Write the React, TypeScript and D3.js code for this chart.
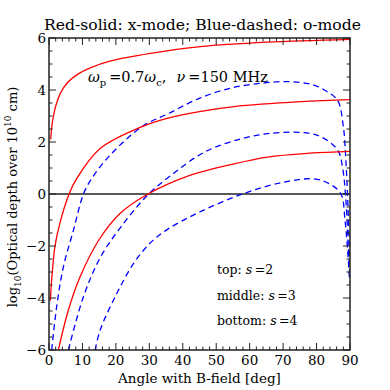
import * as d3 from 'd3';
import React, { useEffect, useRef } from 'react';

// points: [angle in deg, log10 optical depth]
const xmodeS2 = [[0.5, 2.1], [1.0, 2.74], [2.0, 3.38], [3.5, 3.9], [5.5, 4.28], [8.5, 4.6], [12.5, 4.86], [18.5, 5.12], [30.3, 5.41], [45.3, 5.67], [65.3, 5.84], [90, 5.95]];
const xmodeS3 = [[0.4, -4.1], [0.8, -3.3], [1.8, -2.0], [3.3, -1.1], [6.0, 0], [8.3, 0.6], [15.3, 1.75], [27.8, 2.59], [35.3, 2.91], [45, 3.17], [55.3, 3.36], [75.3, 3.55], [90, 3.63]];
const xmodeS4 = [[2.8, -6], [5.8, -4.46], [9.3, -3.18], [15, -1.75], [21.3, -0.74], [29.6, 0], [41.3, 0.68], [55, 1.15], [65.3, 1.42], [78, 1.57], [90, 1.64]];
const omodeS2 = [[0.8, -6], [2.3, -4.33], [4.3, -2.8], [7.3, -1.4], [10.3, 0], [12.8, 0.6], [18.3, 1.5], [27.8, 2.59], [35.8, 3.1], [45.3, 3.7], [55.3, 4.1], [65, 4.28], [72.3, 4.32], [79, 4.2], [83, 3.95], [86.3, 3.6], [88, 2.6], [88.8, 1.2], [89.4, -0.5], [89.9, -2.6]];
const omodeS3 = [[5.8, -6], [10.3, -3.95], [15.3, -2.45], [21.3, -1.3], [29.8, 0], [37.3, 0.8], [44.3, 1.45], [49.3, 1.78], [57.3, 2.12], [65.3, 2.32], [75.3, 2.37], [81.3, 2.2], [86.3, 1.69], [87.8, 1.0], [88.8, -0.3], [89.4, -1.8], [89.9, -3.1]];
const omodeS4 = [[13.8, -6], [15.3, -5.23], [20.3, -3.82], [25.3, -2.67], [30.3, -1.88], [35.3, -1.37], [44.3, -0.74], [57.8, 0], [70, 0.45], [79.3, 0.58], [84, 0.38], [87.3, 0], [88.5, -1], [89.3, -2.2], [89.9, -3.4]];

const xTicks = [0, 10, 20, 30, 40, 50, 60, 70, 80, 90];
const yTicks = [-6, -4, -2, 0, 2, 4, 6];

const font = 'DejaVu Serif, serif';

function App() {
    const ref = useRef(null);

    useEffect(() => {
        const svg = d3.select(ref.current);
        svg.selectAll('*').remove();

        const left = 49, right = 350, top = 38, bottom = 350;
        const x = d3.scaleLinear().domain([0, 90]).range([left, right]);
        const y = d3.scaleLinear().domain([-6, 6]).range([bottom, top]);

        svg.append('clipPath').attr('id', 'plotclip')
            .append('rect').attr('x', left).attr('y', top)
            .attr('width', right - left).attr('height', bottom - top);

        // zero line
        svg.append('line')
            .attr('x1', left).attr('x2', right)
            .attr('y1', y(0)).attr('y2', y(0))
            .attr('stroke', '#222').attr('stroke-width', 1.4);

        const line = d3.line().x(d => x(d[0])).y(d => y(d[1])).curve(d3.curveCatmullRom.alpha(0.5));
        const g = svg.append('g').attr('clip-path', 'url(#plotclip)');

        [omodeS2, omodeS3, omodeS4].forEach(s => {
            g.append('path').attr('d', line(s))
                .attr('fill', 'none').attr('stroke', '#0000ff')
                .attr('stroke-width', 1.3).attr('stroke-dasharray', '6,4');
        });
        [xmodeS2, xmodeS3, xmodeS4].forEach(s => {
            g.append('path').attr('d', line(s))
                .attr('fill', 'none').attr('stroke', '#ff0000')
                .attr('stroke-width', 1.3);
        });

        // ticks, on all four sides, pointing in
        const ticks = svg.append('g').attr('stroke', '#222').attr('stroke-width', 1);
        d3.range(0, 90.1, 2).forEach(v => {
            const len = v % 10 === 0 ? 7 : 3.5;
            ticks.append('line').attr('x1', x(v)).attr('x2', x(v)).attr('y1', bottom).attr('y2', bottom - len);
            ticks.append('line').attr('x1', x(v)).attr('x2', x(v)).attr('y1', top).attr('y2', top + len);
        });
        d3.range(-6, 6.01, 0.5).forEach(v => {
            const len = v % 2 === 0 ? 7 : 3.5;
            ticks.append('line').attr('y1', y(v)).attr('y2', y(v)).attr('x1', left).attr('x2', left + len);
            ticks.append('line').attr('y1', y(v)).attr('y2', y(v)).attr('x1', right).attr('x2', right - len);
        });

        svg.append('rect')
            .attr('x', left).attr('y', top)
            .attr('width', right - left).attr('height', bottom - top)
            .attr('fill', 'none').attr('stroke', '#222').attr('stroke-width', 1.5);

        // tick labels
        svg.selectAll('.xl').data(xTicks).enter().append('text')
            .attr('x', d => x(d)).attr('y', bottom + 15)
            .attr('text-anchor', 'middle').attr('font-family', font).attr('font-size', 13.5)
            .text(d => d);
        svg.selectAll('.yl').data(yTicks).enter().append('text')
            .attr('x', left - 3).attr('y', d => y(d) + 5)
            .attr('text-anchor', 'end').attr('font-family', font).attr('font-size', 13.5)
            .text(d => (d < 0 ? '\u2212' + Math.abs(d) : d));

        svg.append('text')
            .attr('x', (left + right) / 2 + 3).attr('y', 29.5)
            .attr('text-anchor', 'middle').attr('font-family', font).attr('font-size', 15.6)
            .text('Red-solid: x-mode; Blue-dashed: o-mode');

        svg.append('text')
            .attr('x', (left + right) / 2).attr('y', 383)
            .attr('text-anchor', 'middle').attr('font-family', font).attr('font-size', 13.5)
            .text('Angle with B-field [deg]');

        // y label with sub/superscripts
        const yl = svg.append('text')
            .attr('transform', `translate(17,${(top + bottom) / 2 + 3}) rotate(-90)`)
            .attr('text-anchor', 'middle').attr('font-family', font).attr('font-size', 13);
        yl.append('tspan').text('log');
        yl.append('tspan').attr('dy', 4).attr('font-size', 9).text('10');
        yl.append('tspan').attr('dy', -4).text('(Optical depth over 10');
        yl.append('tspan').attr('dy', -6).attr('font-size', 9).text('10');
        yl.append('tspan').attr('dy', 6).text(' cm)');

        // annotation
        const ann = svg.append('text')
            .attr('x', 88).attr('y', 82).attr('font-family', font).attr('font-size', 14.5);
        ann.append('tspan').attr('font-style', 'italic').text('\u03c9');
        ann.append('tspan').attr('dy', 4).attr('font-size', 10).text('p');
        ann.append('tspan').attr('dy', -4).text('\u2009=0.7');
        ann.append('tspan').attr('font-style', 'italic').text('\u03c9');
        ann.append('tspan').attr('dy', 4).attr('font-size', 10).text('c');
        ann.append('tspan').attr('dy', -4).text(',\u2002\u2009');
        ann.append('tspan').attr('font-style', 'italic').text('\u03bd');
        ann.append('tspan').text('\u2009=150 MHz');

        const labels = [['top: ', '2'], ['middle: ', '3'], ['bottom: ', '4']];
        labels.forEach((l, i) => {
            const t = svg.append('text')
                .attr('x', 217).attr('y', 274 + i * 25.5)
                .attr('font-family', font).attr('font-size', 12.5);
            t.append('tspan').text(l[0]);
            t.append('tspan').attr('font-style', 'italic').text('s');
            t.append('tspan').text('\u2009=' + l[1]);
        });
    }, []);

    return (
        <svg ref={ref} width={390} height={390}
            style={{ position: 'absolute', left: 0, top: 0, background: 'white' }}></svg>
    );
}

export default App;
